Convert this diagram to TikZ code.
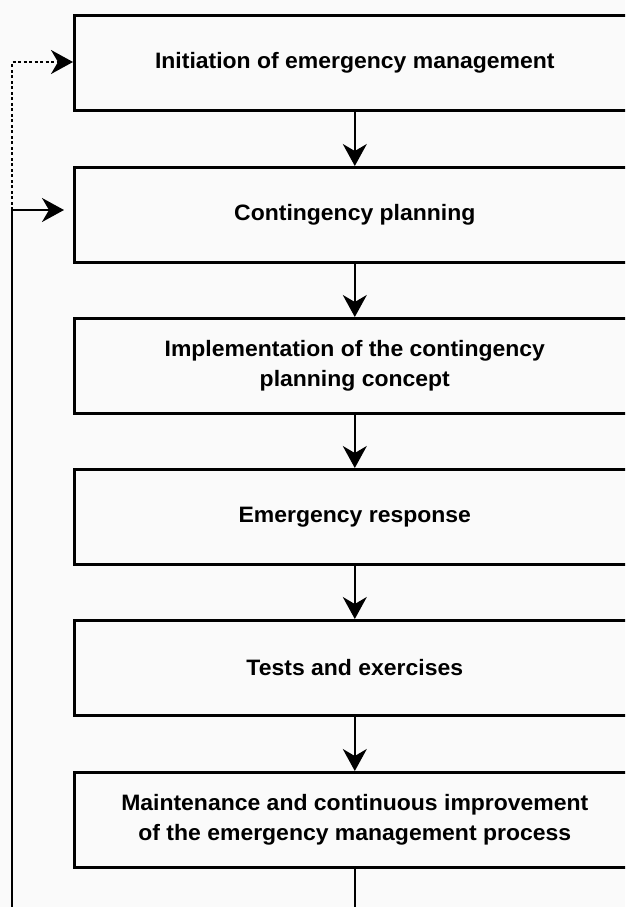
\documentclass[tikz,border=0pt]{standalone}
\usepackage{fontspec}
\setmainfont[FakeStretch=1.03]{Liberation Sans}
\usetikzlibrary{arrows.meta,positioning}
\begin{document}
\begin{tikzpicture}[x=1pt,y=1pt,
  stepbox/.style={draw=black,line width=2.6pt,minimum width=561pt,minimum height=95pt,
    anchor=north west,inner sep=0pt,align=center,
    font=\fontsize{22.3}{30}\selectfont\bfseries},
  conn/.style={line width=2pt,-{Stealth[length=22pt,width=24pt,inset=7pt]}}]
\fill[white!98!black] (0,0) rectangle (625,-907);
\useasboundingbox (0,0) rectangle (625,-907);
\clip (0,0) rectangle (625,-907);
\node[stepbox] (b1) at (73,-14) {Initiation of emergency management};
\node[stepbox] (b2) at (73,-166) {Contingency planning};
\node[stepbox] (b3) at (73,-317) {Implementation of the contingency\\planning concept};
\node[stepbox] (b4) at (73,-468) {Emergency response};
\node[stepbox] (b5) at (73,-619) {Tests and exercises};
\node[stepbox] (b6) at (73,-771) {Maintenance and continuous improvement\\of the emergency management process};
\coordinate (bend) at (12,-907);
\coordinate (end) at (b6.south |- bend);
\coordinate (lj) at (12,-210);
\coordinate (ld) at (12,-62);
\draw[conn] (b1) -- (b2);
\draw[conn] (b2) -- (b3);
\draw[conn] (b3) -- (b4);
\draw[conn] (b4) -- (b5);
\draw[conn] (b5) -- (b6);
\draw[line width=2pt] (b6.south) -- (end);
\draw[line width=2pt] (bend) -- (lj);
\draw[conn,shorten >=9pt] (lj) -- (lj -| b2.west);
\draw[conn,dash pattern=on 3pt off 2.5pt] (lj) -- (ld) -- (ld -| b1.west);
\end{tikzpicture}
\end{document}
